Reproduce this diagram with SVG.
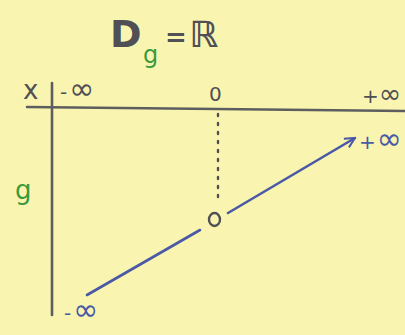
<svg xmlns="http://www.w3.org/2000/svg" width="405" height="335" viewBox="0 0 405 335">
<defs>
<style>
.ink{font-family:"DejaVu Sans","Liberation Sans",sans-serif;fill:#4f4f55}
.blue{font-family:"DejaVu Sans","Liberation Sans",sans-serif;fill:#4a58a8}
.green{font-family:"DejaVu Sans","Liberation Sans",sans-serif;fill:#3a9a3c}
.inf{font-size:30px}
.sign{font-size:20px}
.axis{stroke:#5e5e60;stroke-width:2.6;fill:none;stroke-linecap:round}
.graph{stroke:#4a58a8;stroke-width:2.6;fill:none;stroke-linecap:round}
</style>
<marker id="arr" viewBox="0 0 12 12" refX="11" refY="6" markerWidth="12" markerHeight="12" markerUnits="userSpaceOnUse" orient="auto">
<path d="M1,1 L11,6 L1,11" fill="none" stroke="#4a58a8" stroke-width="2"/>
</marker>
</defs>
<rect width="405" height="335" fill="#f9f5b0"/>
<g id="title">
<text class="ink" x="110" y="47" font-size="38" font-weight="bold">D</text>
<text class="green" x="143" y="63" font-size="24">g</text>
<text class="ink" x="165" y="46" font-size="26" font-weight="bold">=</text>
<text class="ink" x="189" y="47" font-size="36" font-weight="bold">ℝ</text>
</g>
<g id="axes">
<line class="axis" x1="27" y1="107" x2="405" y2="111"/>
<line class="axis" x1="52" y1="83" x2="52" y2="315"/>
</g>
<g id="x-labels">
<text class="ink" x="23" y="99" font-size="26">x</text>
<text class="ink" x="60" y="99"><tspan class="sign">-</tspan><tspan class="inf" dx="2">∞</tspan></text>
<text class="ink" x="209" y="101" font-size="20">0</text>
<text class="ink" x="362" y="103"><tspan class="sign">+</tspan><tspan font-size="27">∞</tspan></text>
</g>
<g id="g-label">
<text class="green" x="15" y="199" font-size="26">g</text>
</g>
<g id="connectors">
<line x1="218" y1="114" x2="218" y2="198" stroke="#4f4f55" stroke-width="2.4" stroke-dasharray="2,7" stroke-linecap="round"/>
<line class="graph" x1="87" y1="295" x2="200" y2="230"/>
<line class="graph" x1="228" y1="213" x2="355" y2="138" marker-end="url(#arr)"/>
</g>
<g id="zero-point">
<ellipse cx="214.5" cy="219.5" rx="5.5" ry="6.5" fill="none" stroke="#4f4f55" stroke-width="2.4"/>
</g>
<g id="graph-labels">
<text class="blue" x="359" y="149"><tspan class="sign">+</tspan><tspan class="inf" dx="1">∞</tspan></text>
<text class="blue" x="64" y="320"><tspan class="sign">-</tspan><tspan class="inf" dx="2">∞</tspan></text>
</g>
</svg>
